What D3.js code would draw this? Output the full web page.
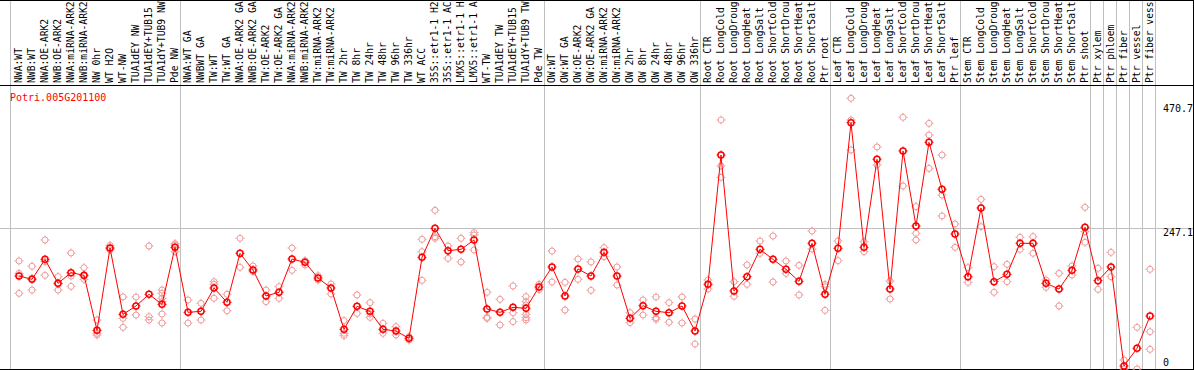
<!DOCTYPE html>
<html>
<head>
<meta charset="utf-8">
<script src="https://cdn.jsdelivr.net/npm/d3@7"></script>
<style>
body{margin:0;background:#fff;}
text{font-family:"DejaVu Sans Mono",monospace;font-size:10px;}
text.lab{font-size:9.7px;}
</style>
</head>
<body>
<script>
var geneId = "Potri.005G201100";

// labels as far as the reference shows them (it cuts them at 14 characters)
var labels = [
 "NWA:WT","NWB:WT","NWA:OE-ARK2","NWB:OE-ARK2","NWA:miRNA-ARK2","NWB:miRNA-ARK2","NW 0hr","WT H2O","WT-NW",
 "TUA1dEY NW","TUA1dEY+TUB15","TUA1dY+TUB9 NW","Pde NW",
 "NWA:WT GA","NWBWT GA","TW:WT","TW:WT GA","NWA:OE-ARK2 GA","NWB:OE-ARK2 GA","TW:OE-ARK2","TW:OE-ARK2 GA",
 "NWA:miRNA-ARK2","NWB:miRNA-ARK2","TW:miRNA-ARK2","TW:miRNA-ARK2","TW 2hr","TW 8hr","TW 24hr","TW 48hr",
 "TW 96hr","TW 336hr","WT ACC","35S::etr1-1 H2","35S::etr1-1 AC","LMX5::etr1-1 H","LMX5::etr1-1 A",
 "WT-TW","TUA1dEY TW","TUA1dEY+TUB15","TUA1dY+TUB9 TW","Pde TW",
 "OW:WT","OW:WT GA","OW:OE-ARK2","OW:OE-ARK2 GA","OW:miRNA-ARK2","OW:miRNA-ARK2","OW 2hr","OW 8hr",
 "OW 24hr","OW 48hr","OW 96hr","OW 336hr",
 "Root CTR","Root LongCold","Root LongDroug","Root LongHeat","Root LongSalt","Root ShortCold",
 "Root ShortDrou","Root ShortHeat","Root ShortSalt","Ptr root",
 "Leaf CTR","Leaf LongCold","Leaf LongDroug","Leaf LongHeat","Leaf LongSalt","Leaf ShortCold",
 "Leaf ShortDrou","Leaf ShortHeat","Leaf ShortSalt","Ptr leaf",
 "Stem CTR","Stem LongCold","Stem LongDroug","Stem LongHeat","Stem LongSalt","Stem ShortCold",
 "Stem ShortDrou","Stem ShortHeat","Stem ShortSalt","Ptr shoot",
 "Ptr xylem","Ptr phloem","Ptr fiber","Ptr vessel","Ptr fiber vess"
];

// columns per sample group, a grey rule follows each group
var groupSizes = [13, 28, 12, 10, 10, 10, 1, 1, 1, 1, 1];

var means = [
 161.7,155.7,191.6,148.5,167.7,162.9,64.1,212.0,92.8,107.8,128.8,110.8,213.2,
 96.4,98.2,140.1,114.4,202.4,172.5,125.8,132.4,192.2,186.3,158.1,140.1,65.9,107.2,98.2,65.9,62.9,49.7,
 195.2,247.3,207.2,209.6,226.4,102.4,96.4,105.4,103.6,141.9,
 177.9,125.8,174.3,161.7,204.2,161.7,85.6,108.4,98.2,95.8,107.8,62.9,
 146.7,379.1,134.8,160.5,209.6,191.6,173.7,152.1,220.4,128.8,
 211.4,437.2,213.2,371.3,138.3,386.3,251.5,401.9,317.4,237.2,
 160.5,283.9,151.5,164.7,220.4,220.4,148.5,138.3,171.9,249.1,
 153.3,177.9,0,31.7,89.8
];

var reps = [
 [188.7,166.5,130.6],[179.1,157.5,136.5],[226.4,187.5,162.9],[160.5,147.3,136.5],[203.0,161.7,143.1],
 [176.7,155.7,161.7],[82.6,58.7,55.7],[216.8,211.4,208.4],[124.0,85.6,69.5],[124.0,91.6],
 [215.6,88.6,82.6],[136.5,130.6,121.6,115.6,93.4,77.3],[219.8,217.4,205.4],
 [118.6,77.3],[112.6,82.6],[151.5,146.7,121.6],[128.8,99.4],[229.4,177.3],[179.7,169.5],
 [136.5,115.6],[142.5,121.6],[212.0,171.9],[189.3,181.5],[162.3,154.5],[147.3,129.4],
 [81.5,58.7,54.5],[127.6,94.6],[113.8,93.4,87.4],[76.7,58.7],[70.7,55.7],[52.7,46.7],
 [227.6,205.4,153.9],[279.7,232.4,229.4],[215.6,193.4],[229.4,186.9],[239.6,235.4,208.4],
 [132.4,87.4,85.6],[119.8,73.7],[143.7,95.8,79.7],[124.6,115.6,109.6,92.8,86.8,82.6],[146.7,137.1],
 [206.6,150.9],[150.3,100.6],[192.2,155.7],[186.9,135.9],[212.6,196.4],[177.9,145.5],
 [95.8,77.9],[118.6,91.6],[124.0,86.8,83.8],[113.8,78.5],[124.0,77.3],[84.4,39.5],
 [154.5,138.3],[442.0,359.3,339.0],[151.5,125.2],[181.5,146.7],[224.6,202.4],[233.6,150.9],
 [188.7,166.5],[180.9,127.6],[242.6,210.2],[146.7,142.5,100.0],
 [224.6,189.3],[480.9,442.0,388.1],[223.4,205.4],[393.5,361.1],[152.7,120.4],[446.8,323.4],
 [286.3,238.4,226.4],[436.0,415.0,355.1],[379.1,307.2,269.5],[255.1,213.2],
 [176.7,150.3],[299.5,250.3],[178.5,132.4],[182.7,151.5],[231.2,209.6],[232.4,202.4],
 [154.5,141.3],[166.5,107.8],[179.7,163.5],[285.1,241.4,222.2],
 [175.5,137.7],[204.2,160.5],[10.8,-5.4],[69.5,-5.4],[173.7,61.7,29.9]
];

var yTicks = [0, 247.1, 470.7];

var W = 1194, H = 370;
var grey = "#c0c0c0";

var svg = d3.select("body").append("svg")
 .attr("width", W)
 .attr("height", H);

var x = d3.scalePoint()
 .domain(d3.range(labels.length))
 .range([19, 1150]);

var y = d3.scaleLinear()
 .domain([0, 470.7])
 .range([366, 104]);

// horizontal grid at the middle tick
var gy = Math.floor(y(yTicks[1])) + 0.5;
svg.append("line")
 .attr("x1", 0).attr("x2", W)
 .attr("y1", gy).attr("y2", gy)
 .attr("stroke", grey);

// group separators
var seps = [x(0) - 8.5];
var n = 0;
groupSizes.forEach(function(s){
	n += s;
	seps.push(x(n - 1) + 5.5);
});
svg.selectAll("line.sep")
 .data(seps)
 .enter().append("line")
 .attr("class", "sep")
 .attr("x1", function(d){ return d; })
 .attr("x2", function(d){ return d; })
 .attr("y1", 0).attr("y2", 369)
 .attr("stroke", grey);

// frame
svg.append("line").attr("x1", 0).attr("x2", W).attr("y1", 0.5).attr("y2", 0.5).attr("stroke", "#000");
svg.append("line").attr("x1", 0).attr("x2", W).attr("y1", 85.5).attr("y2", 85.5).attr("stroke", "#000");
svg.append("line").attr("x1", 0).attr("x2", W).attr("y1", 369.5).attr("y2", 369.5).attr("stroke", "#000");
svg.append("line").attr("x1", W - 0.5).attr("x2", W - 0.5).attr("y1", 0).attr("y2", H).attr("stroke", "#000");

// sample labels
svg.selectAll("text.lab")
 .data(labels)
 .enter().append("text")
 .attr("class", "lab")
 .attr("transform", function(d, i){ return "translate(" + (x(i) + 2.5) + ",83) rotate(-90)"; })
 .attr("fill", "#000")
 .text(function(d){ return d; });

// right axis values
svg.selectAll("text.tick")
 .data(yTicks)
 .enter().append("text")
 .attr("class", "tick")
 .attr("x", 1163)
 .attr("y", function(d){ return Math.min(y(d) + 7.5, y(0)); })
 .attr("fill", "#000")
 .text(function(d){ return d; });

svg.append("text")
 .attr("x", 10).attr("y", 101)
 .attr("fill", "#ff0000")
 .text(geneId);

function marker(g, cx, cy, color, sw){
	g.append("circle")
	 .attr("cx", cx).attr("cy", cy).attr("r", 3)
	 .attr("fill", "none")
	 .attr("stroke", color)
	 .attr("stroke-width", sw);
	g.append("path")
	 .attr("d", "M" + cx + "," + (cy - 3) + "v-1.5M" + cx + "," + (cy + 3) + "v1.5M" +
		(cx - 3) + "," + cy + "h-1.5M" + (cx + 3) + "," + cy + "h1.5")
	 .attr("stroke", color)
	 .attr("stroke-width", 1);
}

// replicates
var repG = svg.append("g");
reps.forEach(function(r, i){
	r.forEach(function(v){
		marker(repG, x(i), y(v), "#f09c9c", 1);
	});
});

// mean line
svg.append("path")
 .datum(means)
 .attr("d", d3.line()
	.x(function(d, i){ return x(i); })
	.y(function(d){ return y(d); }))
 .attr("fill", "none")
 .attr("stroke", "#ff0000")
 .attr("stroke-width", 1);

var meanG = svg.append("g");
means.forEach(function(v, i){
	marker(meanG, x(i), y(v), "#ff0000", 1.5);
});
</script>
</body>
</html>
